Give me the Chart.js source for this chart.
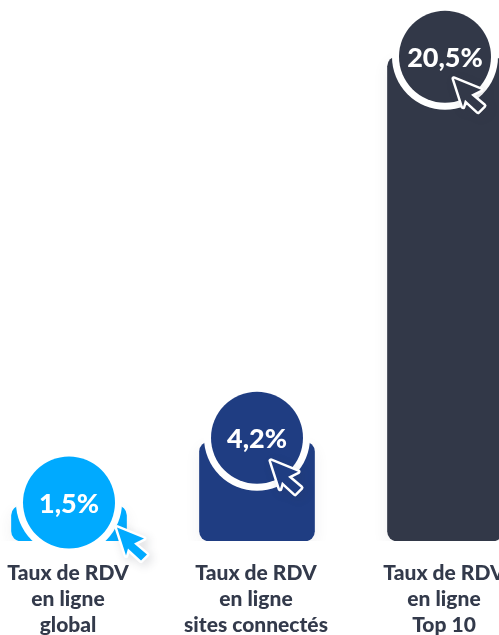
<!DOCTYPE html>
<html>
<head>
<meta charset="utf-8">
<style>
  html, body { margin: 0; padding: 0; background: #fff; overflow: hidden; }
  #wrap { position: relative; width: 499px; height: 635px; overflow: hidden; }
  #inner { position: absolute; left: -25px; top: 0; width: 564px; height: 635px; }
</style>
<script src="https://cdn.jsdelivr.net/npm/chart.js@4/dist/chart.umd.min.js"></script>
</head>
<body>
<div id="wrap"><div id="inner"><canvas id="chartcanvas"></canvas></div></div>
<script>
const categories = [
  ['Taux de RDV', 'en ligne', 'global'],
  ['Taux de RDV', 'en ligne', 'sites connectés'],
  ['Taux de RDV', 'en ligne', 'Top 10']
];
const values = [1.5, 4.2, 20.5];
const valueLabels = ['1,5%', '4,2%', '20,5%'];
const barColors = ['#00aaff', '#1f3d82', '#323848'];

// badge centre relative to the bar top, cursor tip relative to the badge centre
const badgeShift = [-3, -4, 0];
const cursorOffsets = [[48, 25], [14, 23], [9, 22]];
const cursorShape = [[0, 0], [27, 11], [17, 16], [30, 27], [24, 33], [11, 21], [9, 28]];

const badgePlugin = {
  id: 'badges',
  beforeDatasetsDraw(chart) {
    chart.ctx.save();
    chart.ctx.shadowColor = 'rgba(50, 56, 72, 0.07)';
    chart.ctx.shadowBlur = 16;
    chart.ctx.shadowOffsetY = 6;
  },
  afterDatasetsDraw(chart) {
    const ctx = chart.ctx;
    ctx.restore();
    chart.getDatasetMeta(0).data.forEach((bar, i) => {
      const cx = bar.x;
      const cy = bar.y + badgeShift[i];
      ctx.save();
      ctx.fillStyle = '#fff';
      ctx.beginPath();
      ctx.arc(cx, cy, 53, 0, Math.PI * 2);
      ctx.fill();
      ctx.fillStyle = barColors[i];
      ctx.beginPath();
      ctx.arc(cx, cy, 46, 0, Math.PI * 2);
      ctx.fill();

      ctx.fillStyle = '#fff';
      ctx.font = '900 27px Lato';
      ctx.textAlign = 'center';
      ctx.textBaseline = 'middle';
      ctx.fillText(valueLabels[i], cx, cy + 2);

      const tx = cx + cursorOffsets[i][0];
      const ty = cy + cursorOffsets[i][1];
      ctx.beginPath();
      cursorShape.forEach((p, k) => {
        if (k == 0) ctx.moveTo(tx + p[0], ty + p[1]);
        else ctx.lineTo(tx + p[0], ty + p[1]);
      });
      ctx.closePath();
      ctx.lineJoin = 'round';
      ctx.lineWidth = 5;
      ctx.strokeStyle = '#fff';
      ctx.shadowColor = 'rgba(50, 56, 72, 0.18)';
      ctx.shadowBlur = 10;
      ctx.shadowOffsetX = 3;
      ctx.shadowOffsetY = 3;
      ctx.stroke();
      ctx.shadowColor = 'transparent';
      ctx.fillStyle = barColors[i];
      ctx.fill();
      ctx.restore();
    });
  }
};

const ctx = document.getElementById('chartcanvas').getContext('2d');
new Chart(ctx, {
  type: 'bar',
  data: {
    labels: categories,
    datasets: [{
      data: values,
      backgroundColor: barColors,
      borderRadius: 10,
      borderSkipped: false,
      barThickness: 115
    }]
  },
  options: {
    responsive: true,
    maintainAspectRatio: false,
    animation: false,
    layout: { padding: 0 },
    scales: {
      x: {
        afterFit(scale) { scale.height = 94; },
        grid: { display: false },
        border: { display: false },
        ticks: {
          autoSkip: false,
          maxRotation: 0,
          padding: 11,
          labelOffset: -1,
          color: '#333a4b',
          font: { family: 'Lato', weight: '900', size: 21, lineHeight: 1.24 }
        }
      },
      y: { display: false, min: 0, max: 22.9 }
    },
    plugins: {
      legend: { display: false },
      tooltip: { enabled: false }
    }
  },
  plugins: [badgePlugin]
});
</script>
</body>
</html>
